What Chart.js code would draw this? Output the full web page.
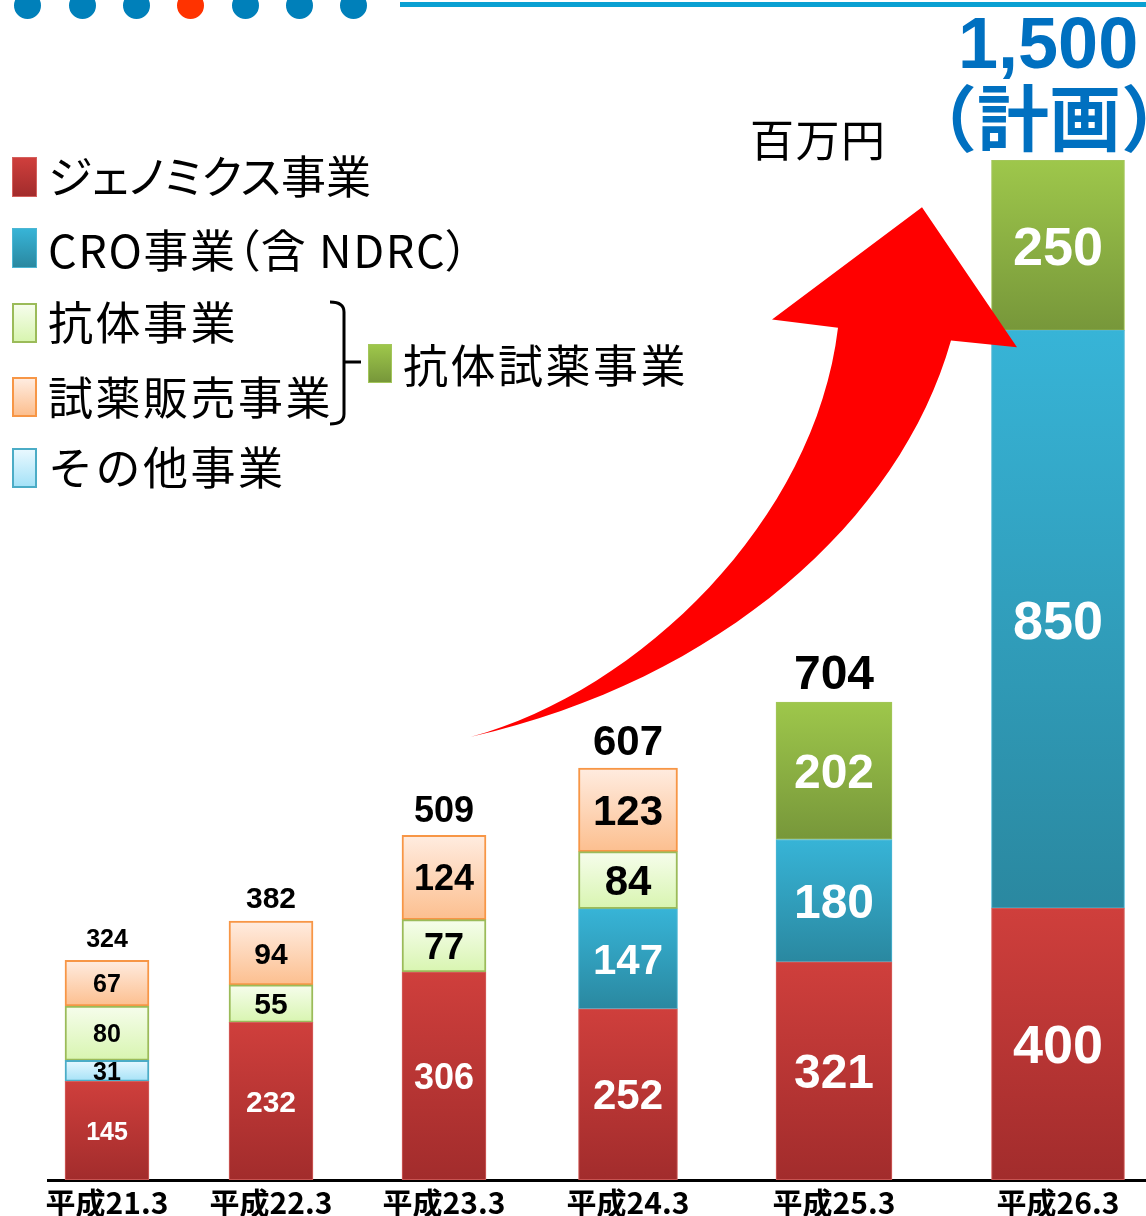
<!DOCTYPE html>
<html lang="ja">
<head>
<meta charset="utf-8">
<title>売上高推移</title>
<script src="https://cdn.jsdelivr.net/npm/chart.js@4.4.1/dist/chart.umd.min.js"></script>
<style>
  html, body { margin: 0; padding: 0; background: #fff; overflow: hidden; }
  #wrap { position: relative; width: 1146px; height: 1230px; }
  #chart { position: absolute; left: 0; top: 0; }
  .abs { position: absolute; white-space: nowrap; }
  .jp { font-family: "Noto Sans CJK JP", "Noto Sans", sans-serif; color: #000; }
  .lgtext { font-size: 45px; line-height: 45px; font-weight: 400; letter-spacing: 2.5px; }
  .sw { position: absolute; box-sizing: border-box; width: 25px; height: 40px; }
  .dot { position: absolute; width: 27px; height: 27px; border-radius: 50%; top: -8px; background: #0080ba; }
</style>
</head>
<body>
<div id="wrap">
  <canvas id="chart"></canvas>

  <!-- top decoration -->
  <div class="dot" style="left:14px"></div>
  <div class="dot" style="left:69px"></div>
  <div class="dot" style="left:123px"></div>
  <div class="dot" style="left:177px;background:#ff3300"></div>
  <div class="dot" style="left:232px"></div>
  <div class="dot" style="left:286px"></div>
  <div class="dot" style="left:340px"></div>
  <div class="abs" style="left:400px;top:2px;width:746px;height:5px;background:#0aa0d2"></div>

  <!-- unit and plan -->
  <div class="abs jp" style="left:750px;top:116px;font-size:44px;line-height:44px;letter-spacing:1.5px;">百万円</div>
  <div class="abs" style="left:958px;top:7px;font-family:'Liberation Sans',Arial,sans-serif;font-weight:bold;font-size:72px;line-height:72px;color:#0070c0;">1,500</div>
  <div class="abs jp" style="left:905px;top:78px;font-size:72px;line-height:72px;font-weight:700;color:#0070c0;">（計画）</div>

  <!-- legend -->
  <div class="sw" style="left:12px;top:157px;background:linear-gradient(#cf3f3c,#a22c2c);border:1px solid #d4605d"></div>
  <div class="abs jp lgtext" style="left:48px;top:152px;letter-spacing:0;font-feature-settings:'palt';">ジェノミクス事業</div>

  <div class="sw" style="left:12px;top:228px;background:linear-gradient(#37b4d7,#2a88a0);border:1px solid #4cb6d3"></div>
  <div class="abs jp lgtext" style="left:48px;top:226px;letter-spacing:1.6px;font-feature-settings:'palt';">CRO事業（含 NDRC）</div>

  <div class="sw" style="left:12px;top:303px;background:linear-gradient(#f6fdec,#d8f5b0);border:2px solid #9bbb59"></div>
  <div class="abs jp lgtext" style="left:48px;top:298px;">抗体事業</div>

  <div class="sw" style="left:12px;top:377px;background:linear-gradient(#ffece0,#fcbf8f);border:2px solid #f79646"></div>
  <div class="abs jp lgtext" style="left:48px;top:373px;">試薬販売事業</div>

  <div class="sw" style="left:12px;top:448px;background:linear-gradient(#e8f8ff,#a5e2f7);border:2px solid #4bacc6"></div>
  <div class="abs jp lgtext" style="left:48px;top:443px;">その他事業</div>

  <svg class="abs" style="left:0;top:0" width="420" height="440">
    <path d="M330,302 Q344,302 344,312 V414 Q344,424 330,424 M344,362 H361" fill="none" stroke="#000" stroke-width="3"/>
  </svg>
  <div class="sw" style="left:368px;top:344px;width:24px;height:39px;background:linear-gradient(#9ec74b,#77973a);border:1px solid #a3c65a"></div>
  <div class="abs jp lgtext" style="left:403px;top:341px;">抗体試薬事業</div>
</div>

<script>
// fiscal years (March year-end)
const categories = ['平成21.3', '平成22.3', '平成23.3', '平成24.3', '平成25.3', '平成26.3'];

// sales by business, million yen (null = segment not shown that year)
const genomics        = [145, 232, 306, 252, 321, 400];
const cro             = [null, null, null, 147, 180, 850];
const otherBiz        = [31, null, null, null, null, null];
const antibody        = [80, 55, 77, 84, null, null];
const reagentSales    = [67, 94, 124, 123, null, null];
const antibodyReagent = [null, null, null, null, 202, 250];

// totals printed above the bars (last year is shown as the plan headline)
const totals = [324, 382, 509, 607, 704, null];

// layout only: bar centre on the x axis, bar width and label size per year
const slotCenters = [107, 271, 444, 628, 834, 1058];
const slotWidths  = [84, 84, 84, 99, 116, 133];
const labelSizes  = [25, 30, 36, 42, 48, 54];

const series = [
  { name: 'ジェノミクス事業', values: genomics, top: '#cf3f3c', bottom: '#a22c2c', border: '#d4605d', bw: 1, text: '#fff' },
  { name: 'CRO事業（含 NDRC）', values: cro, top: '#37b4d7', bottom: '#2a88a0', border: '#4cb6d3', bw: 1, text: '#fff' },
  { name: 'その他事業', values: otherBiz, top: '#e8f8ff', bottom: '#a5e2f7', border: '#4bacc6', bw: 2, text: '#000' },
  { name: '抗体事業', values: antibody, top: '#f6fdec', bottom: '#d8f5b0', border: '#9bbb59', bw: 2, text: '#000' },
  { name: '試薬販売事業', values: reagentSales, top: '#ffece0', bottom: '#fcbf8f', border: '#f79646', bw: 2, text: '#000' },
  { name: '抗体試薬事業', values: antibodyReagent, top: '#9ec74b', bottom: '#77973a', border: '#a3c65a', bw: 1, text: '#fff' }
];

const Y_MAX = 1736;

function segmentFill(ctx, s, base, v) {
  const yScale = ctx.chart.scales.y;
  if (!yScale) return s.top;
  const y0 = yScale.getPixelForValue(base + v);
  const y1 = yScale.getPixelForValue(base);
  if (!isFinite(y0) || !isFinite(y1) || y0 === y1) return s.top;
  const g = ctx.chart.ctx.createLinearGradient(0, y0, 0, y1);
  g.addColorStop(0, s.top);
  g.addColorStop(1, s.bottom);
  return g;
}

// one dataset per visible segment so each year can have its own bar width
const datasets = [];
const segInfo = [];
const runningBase = categories.map(() => 0);
series.forEach(s => {
  s.values.forEach((v, i) => {
    if (v == null) return;
    const base = runningBase[i];
    runningBase[i] += v;
    datasets.push({
      label: s.name,
      data: [{ x: slotCenters[i], y: v }],
      stack: 'all',
      barThickness: slotWidths[i],
      borderWidth: s.bw,
      borderColor: s.border,
      borderSkipped: false,
      backgroundColor: ctx => segmentFill(ctx, s, base, v)
    });
    segInfo.push({ cat: i, text: s.text });
  });
});

// arrow outline in axis units (x: same units as slotCenters, y: million yen)
const arrowUpper = [[471, 652], [640, 720], [815, 970], [838, 1254]];
const arrowHead  = [[772, 1266], [922, 1431], [1017, 1225], [951, 1235]];
const arrowLower = [[900, 970], [720, 735], [471, 652]];

function drawArrow(chart) {
  const { ctx, scales: { x, y } } = chart;
  const p = pt => [x.getPixelForValue(pt[0]), y.getPixelForValue(pt[1])];
  ctx.save();
  ctx.beginPath();
  ctx.moveTo(...p(arrowUpper[0]));
  ctx.bezierCurveTo(...p(arrowUpper[1]), ...p(arrowUpper[2]), ...p(arrowUpper[3]));
  arrowHead.forEach(pt => ctx.lineTo(...p(pt)));
  ctx.bezierCurveTo(...p(arrowLower[0]), ...p(arrowLower[1]), ...p(arrowLower[2]));
  ctx.closePath();
  ctx.fillStyle = '#ff0000';
  ctx.fill();
  ctx.restore();
}

const barLabels = {
  id: 'barLabels',
  afterDatasetsDraw(chart) {
    drawArrow(chart);
    const ctx = chart.ctx;
    const tops = categories.map(() => Infinity);
    ctx.save();
    ctx.textAlign = 'center';
    ctx.textBaseline = 'alphabetic';
    chart.data.datasets.forEach((ds, di) => {
      const el = chart.getDatasetMeta(di).data[0];
      const info = segInfo[di];
      const size = labelSizes[info.cat];
      tops[info.cat] = Math.min(tops[info.cat], el.y);
      ctx.font = 'bold ' + size + 'px "Liberation Sans", Arial, sans-serif';
      ctx.fillStyle = info.text;
      ctx.fillText(String(ds.data[0].y), el.x, (el.y + el.base) / 2 + size * 0.36);
    });
    ctx.fillStyle = '#000';
    totals.forEach((t, i) => {
      if (t == null) return;
      ctx.font = 'bold ' + labelSizes[i] + 'px "Liberation Sans", Arial, sans-serif';
      ctx.fillText(String(t), chart.scales.x.getPixelForValue(slotCenters[i]), tops[i] - 13);
    });
    ctx.restore();
  }
};

new Chart(document.getElementById('chart'), {
  type: 'bar',
  data: { datasets },
  plugins: [barLabels],
  options: {
    responsive: true,
    maintainAspectRatio: false,
    animation: false,
    events: [],
    layout: { padding: { left: 48, right: 0, top: 0, bottom: 12 } },
    datasets: { bar: { grouped: false } },
    plugins: { legend: { display: false }, tooltip: { enabled: false } },
    scales: {
      x: {
        type: 'linear',
        offset: false,
        min: 48,
        max: 1146,
        stacked: true,
        grid: { display: false, drawTicks: false, offset: false },
        border: { display: true, color: '#000', width: 3 },
        afterBuildTicks: axis => { axis.ticks = slotCenters.map(v => ({ value: v })); },
        afterFit: axis => { axis.paddingLeft = 0; axis.paddingRight = 0; axis.height = 38; },
        ticks: {
          autoSkip: false,
          maxRotation: 0,
          padding: 8,
          color: '#000',
          font: { family: '"Noto Sans CJK JP", sans-serif', size: 30, weight: 'bold', lineHeight: 1 },
          callback: (value, index) => categories[index]
        }
      },
      y: { display: false, stacked: true, min: 0, max: Y_MAX }
    }
  }
});
</script>
</body>
</html>
